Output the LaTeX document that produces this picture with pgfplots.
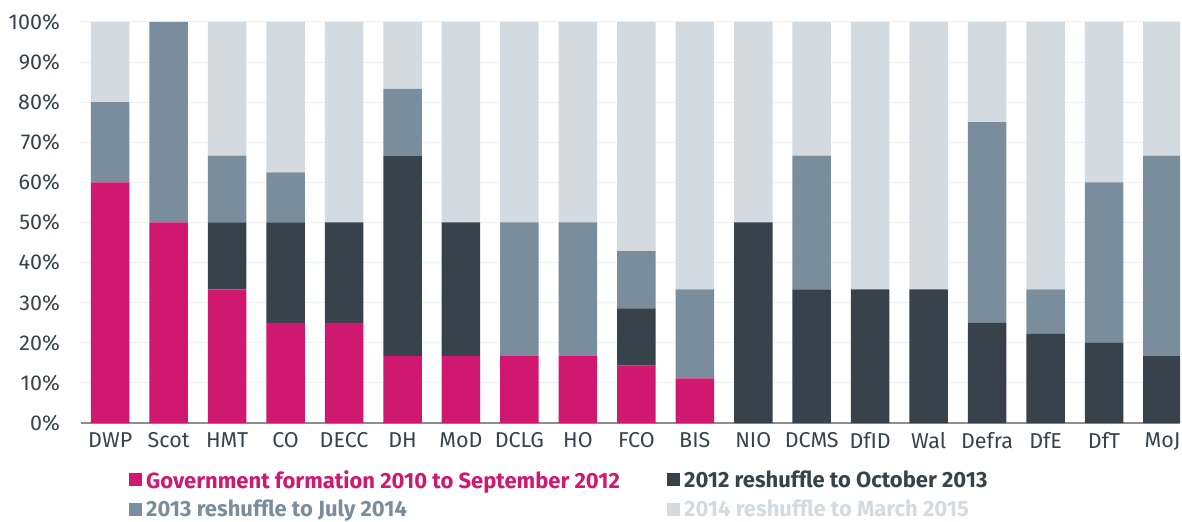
\documentclass[border=0pt]{standalone}
\usepackage{fontspec}
\setmainfont{Fira Sans}
\usepackage{pgfplots}
\usepackage{pgfplotstable}
\pgfplotsset{compat=1.18}
\definecolor{cMag}{RGB}{208,24,112}
\definecolor{cDark}{RGB}{55,66,74}
\definecolor{cMid}{RGB}{122,141,156}
\definecolor{cLight}{RGB}{211,218,224}
\definecolor{gridc}{RGB}{236,242,245}
\definecolor{basec}{RGB}{140,142,144}
\pgfplotstableread{
x a b c d
0 60 0 20 20
1 50 0 50 0
2 33.33 16.67 16.67 33.33
3 25 25 12.5 37.5
4 25 25 0 50
5 16.67 50 16.67 16.67
6 16.67 33.33 0 50
7 16.67 0 33.33 50
8 16.67 0 33.33 50
9 14.29 14.29 14.29 57.14
10 11.11 0 22.22 66.67
11 0 50 0 50
12 0 33.33 33.33 33.33
13 0 33.33 0 66.67
14 0 33.33 0 66.67
15 0 25 50 25
16 0 22.22 11.11 66.67
17 0 20 40 40
18 0 16.67 50 33.33
}\data
\begin{document}
\begin{tikzpicture}
\useasboundingbox (-81bp,-99bp) rectangle (1101bp,423bp);
\begin{axis}[
  scale only axis, width=1099bp, height=401bp,
  ybar stacked, bar width=38.5bp,
  ymin=0, ymax=100, xmin=-0.5, xmax=18.3,
  ytick={0,10,...,100},
  yticklabel={\pgfmathprintnumber{\tick}\%},
  /pgf/number format/assume math mode=true,
  xtick={0,...,18},
  xticklabels={DWP,Scot,HMT,CO,DECC,DH,MoD,DCLG,HO,FCO,BIS,NIO,DCMS,DfID,Wal,Defra,DfE,DfT,MoJ},
  major tick length=0pt,
  ymajorgrids, grid style={color=gridc, line width=1bp},
  axis line style={draw=none},
  tick label style={font=\fontsize{21.5bp}{25bp}\selectfont, text=cDark, inner sep=0pt},
  yticklabel style={anchor=east, xshift=-21bp},
  xticklabel style={anchor=north, yshift=-9bp},
  legend style={at={(rel axis cs:0,0)}, anchor=north west, xshift=45bp, yshift=-43bp,
    draw=none, fill=none, legend columns=2,
    font=\fontsize{22bp}{26bp}\selectfont\bfseries,
    nodes={inner sep=2bp}, row sep=6.5bp},
  legend cell align=left,
  legend image code/.code={\fill[#1, draw=none] (0bp,-6.5bp) rectangle (13bp,6.5bp);},
]
\addplot[fill=cMag, draw=none] table[x=x,y=a]{\data};
\addlegendentry{\hspace{2bp}\makebox[519bp][l]{\textcolor{cMag}{Government formation 2010 to September 2012}}}
\addplot[fill=cDark, draw=none] table[x=x,y=b]{\data};
\addlegendentry{\hspace{2bp}\textcolor{cDark}{2012 reshuffle to October 2013}}
\addplot[fill=cMid, draw=none] table[x=x,y=c]{\data};
\addlegendentry{\hspace{2bp}\makebox[519bp][l]{\textcolor{cMid}{2013 reshuffle to July 2014}}}
\addplot[fill=cLight, draw=none] table[x=x,y=d]{\data};
\addlegendentry{\hspace{2bp}\textcolor{cLight}{2014 reshuffle to March 2015}}
\draw[basec, line width=2bp] (rel axis cs:0,0) -- (rel axis cs:1,0);
\end{axis}
\end{tikzpicture}
\end{document}
